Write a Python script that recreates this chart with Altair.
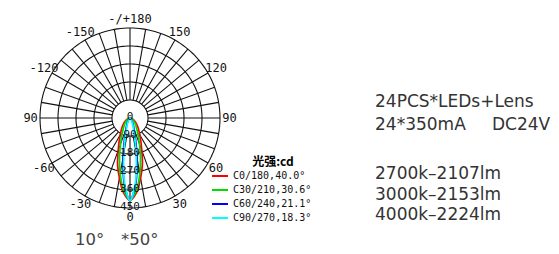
import altair as alt
import pandas as pd
import numpy as np

# ---- data ----
BEAM_ANGLES = [0, 5, 10, 15, 20, 25, 30, 40, 50, 60, 70, 80, 90]
SERIES = ["C0/180,40.0°", "C30/210,30.6°", "C60/240,21.1°", "C90/270,18.3°"]
COLORS = ["#ff0000", "#00dd00", "#0000ff", "#00ffff"]
I_C0 = [412, 375, 305, 240, 172, 128, 97, 63, 40, 25, 12, 5, 0]
I_C30 = [410, 362, 283, 203, 138, 97, 71, 43, 26, 15, 8, 3, 0]
I_C60 = [410, 330, 200, 105, 60, 38, 25, 12, 6, 3, 1, 0, 0]
I_C90 = [412, 320, 175, 85, 45, 28, 18, 8, 4, 2, 1, 0, 0]

RING_VALUES = [90, 180, 270, 360, 450]
RING_LABEL_VALUES = [0, 90, 180, 270, 360, 450]
ANGLE_TICKS = [0, 30, 60, 90, 120, 150, 180, -150, -120, -90, -60, -30]
ANGLE_TEXT = ["0", "30", "60", "90", "120", "150", "-/+180", "-150", "-120", "90", "-60", "-30"]
SPOKE_ANGLES = list(range(0, 360, 10))

LEGEND_TITLE = "光强:cd"
INFO_LINES = ["24PCS*LEDs+Lens", "24*350mA", "DC24V", "2700k–2107lm", "3000k–2153lm", "4000k–2224lm"]
BEAM_TEXT = ["10°", "*50°"]

# ---- tables built from the arrays ----
rows = []
for name, vals in zip(SERIES, [I_C0, I_C30, I_C60, I_C90]):
    for a, v in zip(BEAM_ANGLES[::-1], vals[::-1]):
        rows.append({"series": name, "ang": -a, "I": v})
    for a, v in zip(BEAM_ANGLES[1:], vals[1:]):
        rows.append({"series": name, "ang": a, "I": v})
curves = pd.DataFrame(rows)

ring_rows = []
for r in RING_VALUES:
    for a in range(0, 361, 2):
        ring_rows.append({"ring": r, "ang": a})
rings = pd.DataFrame(ring_rows)

spokes = pd.DataFrame({"ang": SPOKE_ANGLES})
ring_labels = pd.DataFrame({"v": RING_LABEL_VALUES, "t": [str(v) for v in RING_LABEL_VALUES]})
angle_labels = pd.DataFrame({"ang": ANGLE_TICKS, "t": ANGLE_TEXT})

XS = alt.Scale(domain=[-610, 2105], nice=False, zero=False)
YS = alt.Scale(domain=[-640, 550], nice=False, zero=False)
GRID = "#111111"
RAD = "PI/180"

ring_layer = alt.Chart(rings).transform_calculate(
    x=f"datum.ring*sin(datum.ang*{RAD})", y=f"-datum.ring*cos(datum.ang*{RAD})"
).mark_line(color=GRID, strokeWidth=1.1).encode(
    x=alt.X("x:Q", scale=XS, axis=None),
    y=alt.Y("y:Q", scale=YS, axis=None),
    detail="ring:N",
    order="ang:Q",
)

spoke_layer = alt.Chart(spokes).transform_calculate(
    x=f"90*sin(datum.ang*{RAD})", y=f"-90*cos(datum.ang*{RAD})",
    x2=f"450*sin(datum.ang*{RAD})", y2=f"-450*cos(datum.ang*{RAD})",
).mark_rule(color=GRID, strokeWidth=1.1).encode(
    x=alt.X("x:Q", scale=XS, axis=None),
    y=alt.Y("y:Q", scale=YS, axis=None),
    x2="x2:Q",
    y2="y2:Q",
)

curve_layer = alt.Chart(curves).transform_calculate(
    x=f"datum.I*sin(datum.ang*{RAD})", y=f"-datum.I*cos(datum.ang*{RAD})"
).mark_line(strokeWidth=1.7, interpolate="catmull-rom").encode(
    x=alt.X("x:Q", scale=XS, axis=None),
    y=alt.Y("y:Q", scale=YS, axis=None),
    color=alt.Color(
        "series:N",
        scale=alt.Scale(domain=SERIES, range=COLORS),
        legend=alt.Legend(
            title=None, orient="none", legendX=203, legendY=159,
            symbolType="stroke", symbolSize=256, symbolStrokeWidth=2,
            labelFont="DejaVu Sans Mono", labelFontSize=10, labelColor="#111",
            rowPadding=-2.5, padding=0, labelOffset=4,
        ),
    ),
    order="ang:Q",
)

ring_text = alt.Chart(ring_labels).transform_calculate(
    x="0", y="-datum.v"
).mark_text(font="DejaVu Sans Mono", fontSize=11, color="#111", baseline="middle", dy=-1.5).encode(
    x=alt.X("x:Q", scale=XS, axis=None),
    y=alt.Y("y:Q", scale=YS, axis=None),
    text="t:N",
)

angle_text = alt.Chart(angle_labels).transform_calculate(
    x=f"497*sin(datum.ang*{RAD})", y=f"-497*cos(datum.ang*{RAD})"
).mark_text(font="DejaVu Sans Mono", fontSize=12, color="#111", baseline="middle", align="center").encode(
    x=alt.X("x:Q", scale=XS, axis=None),
    y=alt.Y("y:Q", scale=YS, axis=None),
    text="t:N",
)


def label(text, x, y, size=17, color="#333", align="left", font="DejaVu Sans",
          weight="normal", baseline="middle"):
    return alt.Chart(pd.DataFrame({"t": [text]})).mark_text(
        font=font, fontSize=size, color=color, align=align, baseline=baseline, fontWeight=weight
    ).encode(x=alt.value(x), y=alt.value(y), text="t:N")


texts = [
    label(LEGEND_TITLE, 265, 153.5, size=12, color="#000", align="center",
          font="Noto Sans CJK SC", weight="bold"),
    label(INFO_LINES[0], 367, 94),
    label(INFO_LINES[1], 367, 117),
    label(INFO_LINES[2], 484, 117),
    label(INFO_LINES[3], 367, 166),
    label(INFO_LINES[4], 367, 187),
    label(INFO_LINES[5], 367, 207),
    label(BEAM_TEXT[0], 67, 237, size=16.5, color="#444", baseline="alphabetic"),
    label(BEAM_TEXT[1], 113, 237, size=16.5, color="#444", baseline="alphabetic"),
]

chart = alt.layer(ring_layer, spoke_layer, curve_layer, ring_text, angle_text, *texts).properties(
    width=543, height=238, padding=0, autosize=alt.AutoSizeParams(type="none"), background="white"
).configure_view(stroke=None)

chart.save("out.html", embed_options={"renderer": "svg", "actions": False})
